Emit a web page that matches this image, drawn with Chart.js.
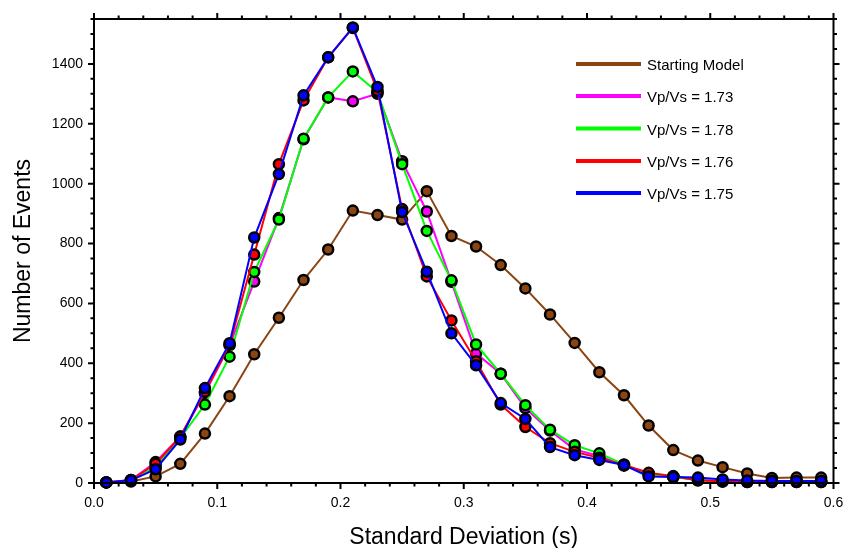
<!DOCTYPE html>
<html><head><meta charset="utf-8">
<script src="https://cdn.jsdelivr.net/npm/chart.js@4/dist/chart.umd.min.js"></script>
<style>html,body{margin:0;padding:0;background:#fff;overflow:hidden}</style>
</head><body>
<canvas id="c" width="843" height="548"></canvas>
<script>
// ---- data ----
const stdDev = [0.01,0.03,0.05,0.07,0.09,0.11,0.13,0.15,0.17,0.19,0.21,0.23,0.25,0.27,0.29,0.31,0.33,0.35,0.37,0.39,0.41,0.43,0.45,0.47,0.49,0.51,0.53,0.55,0.57,0.59];
const startingModel = [2,5,22,64,165,290,430,552,678,780,910,895,880,975,825,790,728,650,563,468,370,293,192,110,75,53,32,17,18,18];
const vpvs173 = [2,10,70,155,300,460,673,885,1148,1288,1275,1300,1075,907,672,433,365,250,175,112,90,58,30,20,12,5,3,3,3,3];
const vpvs178 = [2,8,55,150,262,422,705,880,1150,1288,1375,1305,1065,842,677,463,365,260,178,126,99,62,29,20,10,5,3,3,3,3];
const vpvs176 = [2,10,64,155,305,462,763,1065,1278,1422,1520,1310,915,690,543,407,262,187,133,104,84,60,34,23,8,6,5,5,5,5];
const vpvs175 = [2,9,46,145,317,467,820,1032,1295,1422,1522,1323,905,706,500,393,267,214,120,93,77,60,22,20,18,12,8,7,7,7];
const seriesLabels = ["Starting Model","Vp/Vs = 1.73","Vp/Vs = 1.78","Vp/Vs = 1.76","Vp/Vs = 1.75"];
const xTickLabels = ["0.0","0.1","0.2","0.3","0.4","0.5","0.6"];
const yTickLabels = ["0","200","400","600","800","1000","1200","1400"];

const colors = ["#8B4513","#FF00FF","#00FF00","#FF0000","#0000FF"];
const allSeries = [startingModel, vpvs173, vpvs178, vpvs176, vpvs175];
const drawOrder = [4,3,2,1,0];

const datasets = allSeries.map((vals,i)=>({
  label: seriesLabels[i],
  data: stdDev.map((x,j)=>({x, y: vals[j]})),
  borderColor: colors[i],
  backgroundColor: colors[i],
  borderWidth: 2,
  pointRadius: 5,
  pointBorderWidth: 2.5,
  pointBorderColor: "#000",
  pointBackgroundColor: colors[i],
  tension: 0,
  clip: false,
  order: drawOrder[i]
}));

const framePlugin = {
  id: 'frame',
  afterDatasetsDraw(chart){
    const {ctx, chartArea:{left,right,top,bottom}, scales:{x,y}} = chart;
    ctx.save();
    ctx.strokeStyle = '#000';
    ctx.lineWidth = 2;
    ctx.strokeRect(left, top, right-left, bottom-top);
    for (let i=0;i<=30;i++){
      const px = x.getPixelForValue(i*0.02);
      const len = (i%5===0)?6:3.5;
      ctx.beginPath();
      ctx.moveTo(px,bottom); ctx.lineTo(px,bottom+len);
      ctx.moveTo(px,top); ctx.lineTo(px,top-len);
      ctx.stroke();
    }
    for (let v=0; v<=1550; v+=50){
      const py = y.getPixelForValue(v);
      const len = (v%200===0)?6:3.5;
      ctx.beginPath();
      ctx.moveTo(left,py); ctx.lineTo(left-len,py);
      ctx.moveTo(right,py); ctx.lineTo(right+len,py);
      ctx.stroke();
    }
    ctx.restore();
  }
};

const legendPlugin = {
  id: 'customLegend',
  afterDraw(chart){
    const ctx = chart.ctx;
    const ys = [64, 96, 128.5, 161, 193];
    ctx.save();
    ctx.font = '15px "Liberation Sans", Arial, sans-serif';
    ctx.textBaseline = 'middle';
    ctx.fillStyle = '#000';
    chart.data.datasets.forEach((ds,i)=>{
      ctx.strokeStyle = ds.borderColor;
      ctx.lineWidth = 4;
      ctx.beginPath();
      ctx.moveTo(576, ys[i]); ctx.lineTo(641, ys[i]);
      ctx.stroke();
      ctx.fillText(ds.label, 647, ys[i]+2);
    });
    ctx.restore();
  }
};

new Chart(document.getElementById('c'), {
  type: 'line',
  data: { datasets },
  options: {
    responsive: false,
    animation: false,
    layout: { padding: { top: 19, right: 9.5, left: 0, bottom: 0 } },
    plugins: { legend: { display: false }, tooltip: { enabled: false } },
    scales: {
      x: {
        type: 'linear', min: 0, max: 0.6,
        afterFit(s){ s.height = 65; s.paddingRight = 0; s.paddingLeft = 0; },
        grid: { display: false, drawTicks: false },
        border: { display: false },
        ticks: {
          stepSize: 0.1, padding: 12, color: '#000',
          font: { family: '"Liberation Sans", Arial, sans-serif', size: 14 },
          callback: (v)=>{ const i = Math.round(v*10); return xTickLabels[i]; },
          maxRotation: 0
        },
        title: { display: true, text: 'Standard Deviation (s)', color: '#000',
          font: { family: '"Liberation Sans", Arial, sans-serif', size: 23 }, padding: { top: 0, bottom: -3 } }
      },
      y: {
        type: 'linear', min: 0, max: 1550,
        afterFit(s){ s.width = 94; s.paddingTop = 0; s.paddingBottom = 0; },
        grid: { display: false, drawTicks: false },
        border: { display: false },
        ticks: {
          stepSize: 200, includeBounds: false, padding: 11, color: '#000',
          font: { family: '"Liberation Sans", Arial, sans-serif', size: 14 },
          callback: (v)=>{ const i = Math.round(v/200); return yTickLabels[i]; }
        },
        title: { display: true, text: 'Number of Events', color: '#000',
          font: { family: '"Liberation Sans", Arial, sans-serif', size: 23 }, padding: { top: 10, bottom: 0 } }
      }
    }
  },
  plugins: [framePlugin, legendPlugin]
});
</script>
</body></html>
